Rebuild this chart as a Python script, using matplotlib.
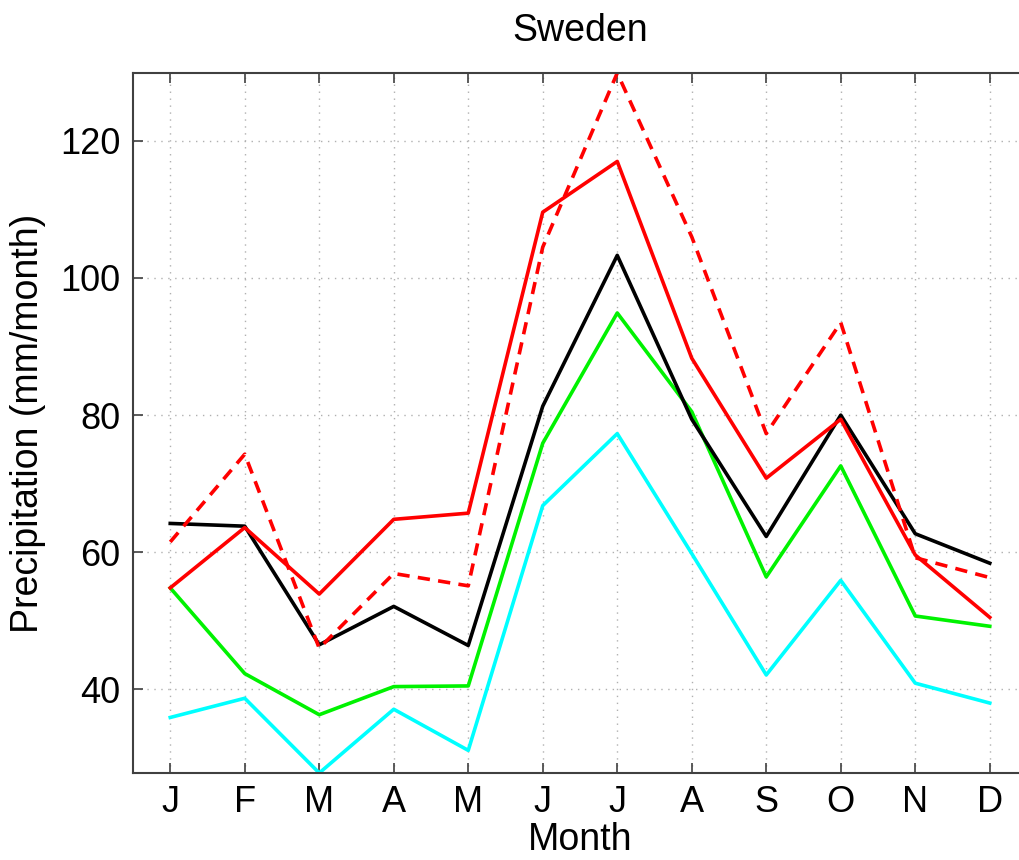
import matplotlib
matplotlib.use("Agg")
import matplotlib.pyplot as plt

plt.rcParams['font.family'] = ['Liberation Sans', 'DejaVu Sans']

months = ["J", "F", "M", "A", "M", "J", "J", "A", "S", "O", "N", "D"]
month_num = list(range(1, 13))

# monthly precipitation (mm/month)
black_vals = [64.2, 63.8, 46.5, 52.1, 46.4, 81.3, 103.3, 79.4, 62.3, 80.0, 62.7, 58.4]
red_vals = [54.8, 63.6, 53.9, 64.8, 65.7, 109.6, 117.0, 88.3, 70.8, 79.4, 59.6, 50.5]
red_dash_vals = [61.5, 74.3, 46.0, 56.9, 55.1, 104.5, 129.9, 106.0, 77.3, 93.5, 59.2, 56.3]
green_vals = [54.8, 42.3, 36.3, 40.4, 40.5, 75.9, 94.9, 80.5, 56.4, 72.6, 50.7, 49.2]
cyan_vals = [35.9, 38.7, 27.8, 37.1, 31.1, 66.8, 77.3, 59.8, 42.1, 55.9, 40.9, 38.0]

fig = plt.figure(figsize=(10.2, 8.6), dpi=100)
# right edge of the box lies just outside the picture, as in the reference
ax = fig.add_axes([133 / 1020, 87 / 860, 894 / 1020, 700 / 860])

lw = 2.6
ax.plot(month_num, cyan_vals, color=(0, 1, 1), lw=lw)
ax.plot(month_num, green_vals, color=(0, 0.95, 0), lw=lw)
ax.plot(month_num, black_vals, color="black", lw=lw)
ax.plot(month_num, red_vals, color="red", lw=lw)
ax.plot(month_num, red_dash_vals, color="red", lw=lw, dashes=(3.4, 2.3))

ax.set_xlim(0.5, 12.5)
ax.set_ylim(min(cyan_vals), max(red_dash_vals))
ax.set_xticks(month_num)
ax.set_xticklabels(months)
ax.set_yticks([40, 60, 80, 100, 120])

ax.grid(True, color="#b0b0b0", linestyle=(0, (1, 4)), lw=1.0)
ax.tick_params(direction="in", length=7, width=1.2, colors="#404040",
               labelcolor="black", labelsize=26, top=True, right=False, pad=9)
for s in ax.spines.values():
    s.set_color("#404040")
    s.set_linewidth(1.5)
ax.spines["right"].set_visible(False)

ax.set_title("Sweden", fontsize=27, pad=23)
ax.set_xlabel("Month", fontsize=27, labelpad=1)
ax.set_ylabel("Precipitation (mm/month)", fontsize=27, labelpad=10)

fig.savefig("out.png", dpi=100)
